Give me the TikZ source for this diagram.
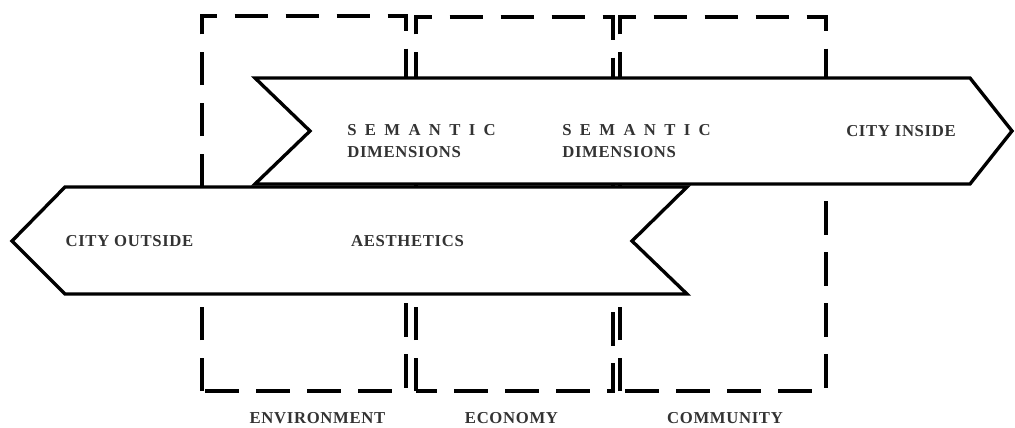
\documentclass[tikz,border=0pt]{standalone}
\usepackage{fontspec}
\setmainfont{Liberation Serif}[LetterSpace=4]
\usepackage{tikz}
\usetikzlibrary{calc,positioning}
\tikzset{>=stealth}
\tikzset{zone/.style={line width=1.9pt,dash pattern=on 19pt off 10pt},
         band/.style={line width=1.9pt,fill=white,line join=miter},
         tag/.style={font=\fontsize{9.5}{13}\selectfont\bfseries,text=black!80,inner sep=0pt},
         spaced/.style={tag,align=left,anchor=west}}

\begin{document}
\begin{tikzpicture}[rotate=0,scale=1]
\useasboundingbox (0,0) rectangle (20.3,8.54);
% dashed zones
\draw[zone] (4.04,0.72) rectangle (8.12,8.22);
\draw[zone] (8.32,0.72) rectangle (12.26,8.20);
\draw[zone] (12.40,0.72) rectangle (16.52,8.20);

% arrow to the right
\draw[band] (5.10,6.98) -- (19.40,6.98) -- (20.24,5.92) --
            (19.40,4.86) -- (5.10,4.86) -- (6.20,5.92) -- cycle;
% arrow to the left
\draw[band] (1.30,4.80) -- (13.74,4.80) -- (12.64,3.72) --
            (13.74,2.66) -- (1.30,2.66) -- (0.24,3.72) -- cycle;

\node[spaced] (sem1) at (6.94,5.72)
  {{\addfontfeature{LetterSpace=50}SEMANTIC}\\DIMENSIONS};
\node[spaced] (sem2) at (11.24,5.72)
  {{\addfontfeature{LetterSpace=50}SEMANTIC}\\DIMENSIONS};
\node[tag] (inside) at (18.02,5.92) {CITY INSIDE};
\node[tag] (outside) at (2.59,3.72) {CITY OUTSIDE};
\node[tag] (aesth) at (8.15,3.72) {AESTHETICS};

\node[tag] (env) at (6.35,0.18) {ENVIRONMENT};
\node[tag] (eco) at (10.23,0.18) {ECONOMY};
\node[tag] (com) at (14.50,0.18) {COMMUNITY};
\end{tikzpicture}
\end{document}
